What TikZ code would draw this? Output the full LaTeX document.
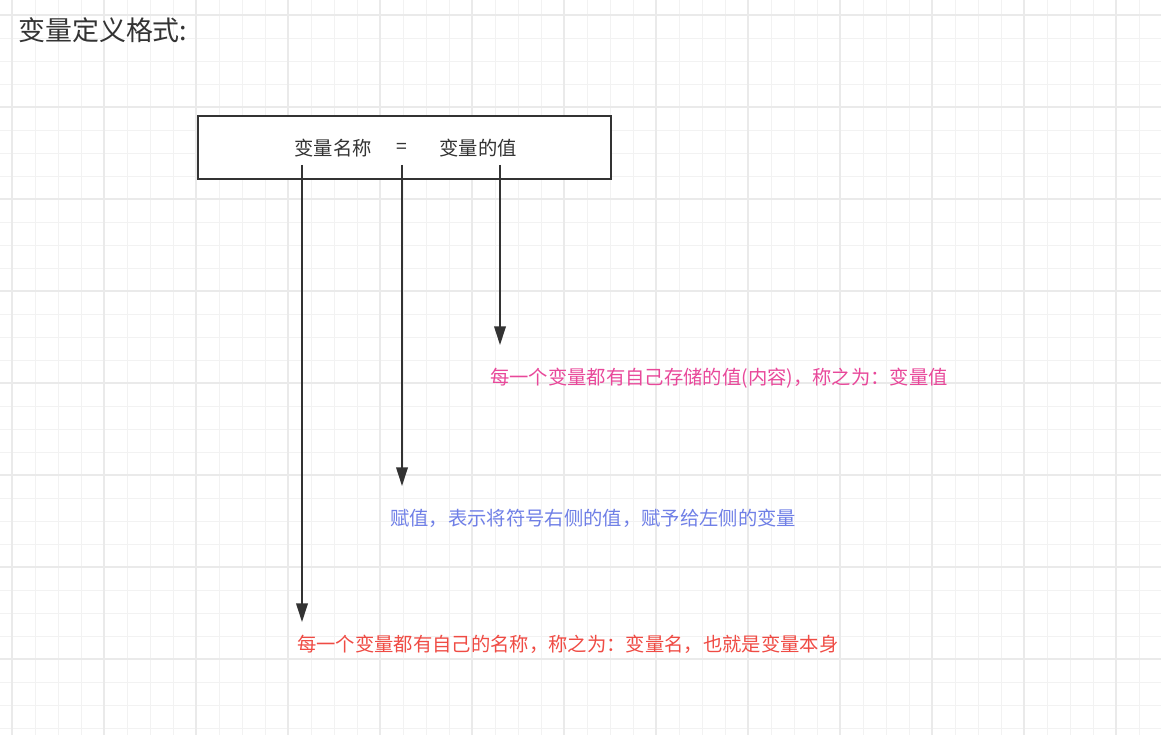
\documentclass[tikz,border=0pt]{standalone}
\usepackage{fontspec}
\setmainfont{Noto Sans CJK SC}
\usetikzlibrary{arrows.meta,positioning}
\definecolor{ink}{HTML}{333333}
\definecolor{gridminor}{HTML}{F2F2F2}
\definecolor{gridmajor}{HTML}{EAEAEA}
\definecolor{valpink}{HTML}{E8489A}
\definecolor{asgblue}{HTML}{6F7FE6}
\definecolor{namered}{HTML}{EF4B44}
\tikzset{
  part/.style={text=ink,font=\fontsize{16.5}{19}\selectfont,inner sep=0pt},
  note/.style={anchor=west,inner sep=0pt,font=\fontsize{16.5}{19}\selectfont},
  pointer/.style={draw=ink,line width=1.3pt,-{Triangle[length=16pt,width=10pt]}}
}
\begin{document}
\begin{tikzpicture}[x=0.03cm,y=-0.03cm]
\useasboundingbox (0,0) rectangle (1161,735);
% grid
\foreach \gx in {12,35,...,1161} \draw[gridminor,line width=0.8pt] (\gx,0) -- (\gx,735);
\foreach \gy in {15,38,...,735} \draw[gridminor,line width=0.8pt] (0,\gy) -- (1161,\gy);
\foreach \gx in {12,104,...,1161} \draw[gridmajor,line width=1pt] (\gx,0) -- (\gx,735);
\foreach \gy in {15,107,...,735} \draw[gridmajor,line width=1pt] (0,\gy) -- (1161,\gy);

\node[anchor=west,text=ink,inner sep=0pt,font=\fontsize{23}{27}\selectfont] (title) at (18,30) {变量定义格式:};

\node[draw=ink,fill=white,line width=1.5pt,minimum width=413*0.03cm,minimum height=63*0.03cm] (box) at (404.5,147.5) {};
\node[part] (name) at (333,148) {变量名称};
\node[part] (eq) at (402,148) {=};
\node[part] (val) at (478,148) {变量的值};

\coordinate (nameend) at (302,622);
\coordinate (eqend) at (402,486);
\coordinate (valend) at (500,345);
\draw[pointer] (302,165) -- (nameend);
\draw[pointer] (402,165) -- (eqend);
\draw[pointer] (500,165) -- (valend);

\node[note,text=valpink] (valnote) at (490,378) {每一个变量都有自己存储的值(内容)，称之为：变量值};
\node[note,text=asgblue] (eqnote) at (390,518) {赋值，表示将符号右侧的值，赋予给左侧的变量};
\node[note,text=namered] (namenote) at (297,644) {每一个变量都有自己的名称，称之为：变量名，也就是变量本身};
\end{tikzpicture}
\end{document}
